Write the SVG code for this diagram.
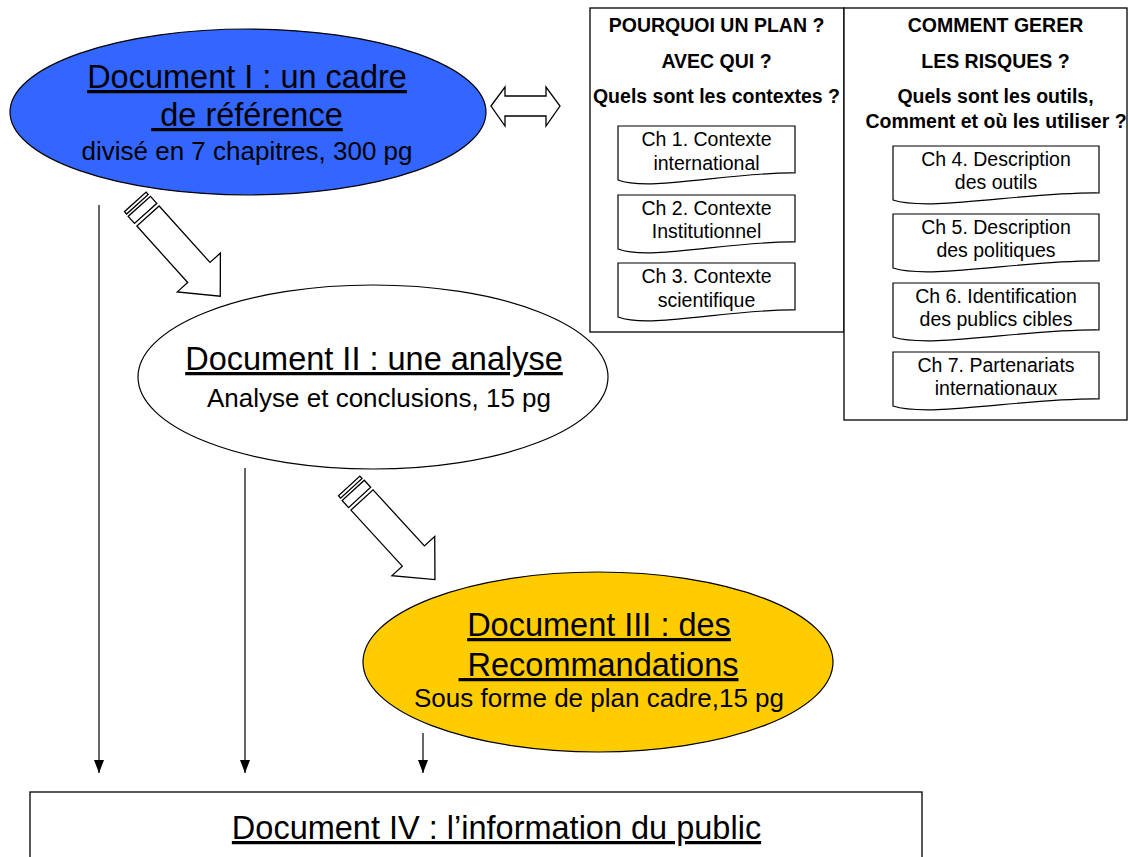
<svg xmlns="http://www.w3.org/2000/svg" width="1128" height="857" viewBox="0 0 1128 857">
<style>
.t{font-family:"Liberation Sans",Arial,sans-serif;fill:#000;text-anchor:middle}
.title{font-size:32.5px;text-decoration:underline}
.sub{font-size:26px}
.hd{font-size:19.5px;font-weight:bold}
.ch{font-size:19.5px}
.box{fill:#fff;stroke:#000;stroke-width:1.3}
.doc{fill:#fff;stroke:#000;stroke-width:1.2}
.blk{fill:#fff;stroke:#000;stroke-width:1.3;stroke-linejoin:miter}
.conn{stroke:#000;stroke-width:1.2;fill:none}
.ell{stroke:#000;stroke-width:1.2}
</style>
<defs>
<marker id="ah" viewBox="0 0 13 10" refX="13" refY="5" markerWidth="13" markerHeight="10" markerUnits="userSpaceOnUse" orient="auto">
<path d="M0,0 L13,5 L0,10 z" fill="#000"/>
</marker>
<g id="striped">
<polygon points="0,-15 76,-15 76,-29 108,0 76,29 76,15 0,15" class="blk"/>
<polygon points="-13,-15 -3.5,-15 -3.5,15 -13,15" class="blk"/>
<polygon points="-19,-14.5 -15.8,-14.5 -15.8,14.5 -19,14.5" class="blk"/>
</g>
</defs>
<rect width="1128" height="857" fill="#fff"/>

<g id="doc1">
<ellipse cx="248" cy="112" rx="238" ry="83" fill="#3366FF" class="ell"/>
<text class="t title" x="247" y="88">Document I : un cadre</text>
<text class="t title" x="247" y="126">&#160;de référence</text>
<text class="t sub" x="247" y="160">divisé en 7 chapitres, 300 pg</text>
</g>

<g id="doubleArrow">
<polygon points="491,106 505,87 505,96 546,96 546,87 560,106 546,126 546,116 505,116 505,126" class="blk"/>
</g>

<g id="boxLeft">
<rect x="590" y="8" width="254" height="324" class="box"/>
<text class="t hd" x="716.5" y="32">POURQUOI UN PLAN ?</text>
<text class="t hd" x="716.5" y="68">AVEC QUI ?</text>
<text class="t hd" x="716.5" y="103">Quels sont les contextes ?</text>
</g>

<g id="boxRight">
<rect x="844" y="8" width="283" height="412" class="box"/>
<text class="t hd" x="995.5" y="32">COMMENT GERER</text>
<text class="t hd" x="995.5" y="68">LES RISQUES ?</text>
<text class="t hd" x="995.5" y="103">Quels sont les outils,</text>
<text class="t hd" x="996" y="128">Comment et où les utiliser ?</text>
</g>

<g id="ch1">
<path d="M618,126 h177 v47 c-65,-1 -145,19 -177,7 z" class="doc"/>
<text class="t ch" x="706.5" y="146">Ch 1. Contexte</text>
<text class="t ch" x="706.5" y="170">international</text>
</g>
<g id="ch2">
<path d="M618,195 h177 v47 c-65,-1 -145,19 -177,7 z" class="doc"/>
<text class="t ch" x="706.5" y="215">Ch 2. Contexte</text>
<text class="t ch" x="706.5" y="238">Institutionnel</text>
</g>
<g id="ch3">
<path d="M618,263 h177 v47 c-65,-1 -145,19 -177,7 z" class="doc"/>
<text class="t ch" x="706.5" y="283">Ch 3. Contexte</text>
<text class="t ch" x="706.5" y="307">scientifique</text>
</g>
<g id="ch4">
<path d="M893,146 h206 v47 c-76,-1 -169,19 -206,7 z" class="doc"/>
<text class="t ch" x="996" y="166">Ch 4. Description</text>
<text class="t ch" x="996" y="189">des outils</text>
</g>
<g id="ch5">
<path d="M893,214 h206 v47 c-76,-1 -169,19 -206,7 z" class="doc"/>
<text class="t ch" x="996" y="234">Ch 5. Description</text>
<text class="t ch" x="996" y="257">des politiques</text>
</g>
<g id="ch6">
<path d="M893,283 h206 v47 c-76,-1 -169,19 -206,7 z" class="doc"/>
<text class="t ch" x="996" y="303">Ch 6. Identification</text>
<text class="t ch" x="996" y="326">des publics cibles</text>
</g>
<g id="ch7">
<path d="M893,352 h206 v47 c-76,-1 -169,19 -206,7 z" class="doc"/>
<text class="t ch" x="996" y="372">Ch 7. Partenariats</text>
<text class="t ch" x="996" y="395">internationaux</text>
</g>

<g id="doc2">
<ellipse cx="373" cy="377" rx="235" ry="92" fill="#fff" class="ell"/>
<text class="t title" x="374" y="370">Document II : une analyse</text>
<text class="t sub" x="379" y="407">Analyse et conclusions, 15 pg</text>
</g>

<g id="doc3">
<ellipse cx="598" cy="662" rx="235" ry="90" fill="#FFCC00" class="ell"/>
<text class="t title" x="599" y="636">Document III : des</text>
<text class="t title" x="598.5" y="676">&#160;Recommandations</text>
<text class="t sub" x="599" y="707">Sous forme de plan cadre,15 pg</text>
</g>

<g id="doc4">
<rect x="30" y="792" width="892" height="80" class="box"/>
<text class="t title" x="496.5" y="839">Document IV : l’information du public</text>
</g>

<g id="connectors">
<use href="#striped" transform="translate(148,216) rotate(48)"/>
<use href="#striped" transform="translate(362,500) rotate(47.5)"/>
<line x1="99" y1="205" x2="99" y2="773" class="conn" marker-end="url(#ah)"/>
<line x1="245" y1="468" x2="245" y2="773" class="conn" marker-end="url(#ah)"/>
<line x1="423" y1="733" x2="423" y2="773" class="conn" marker-end="url(#ah)"/>
</g>
</svg>
